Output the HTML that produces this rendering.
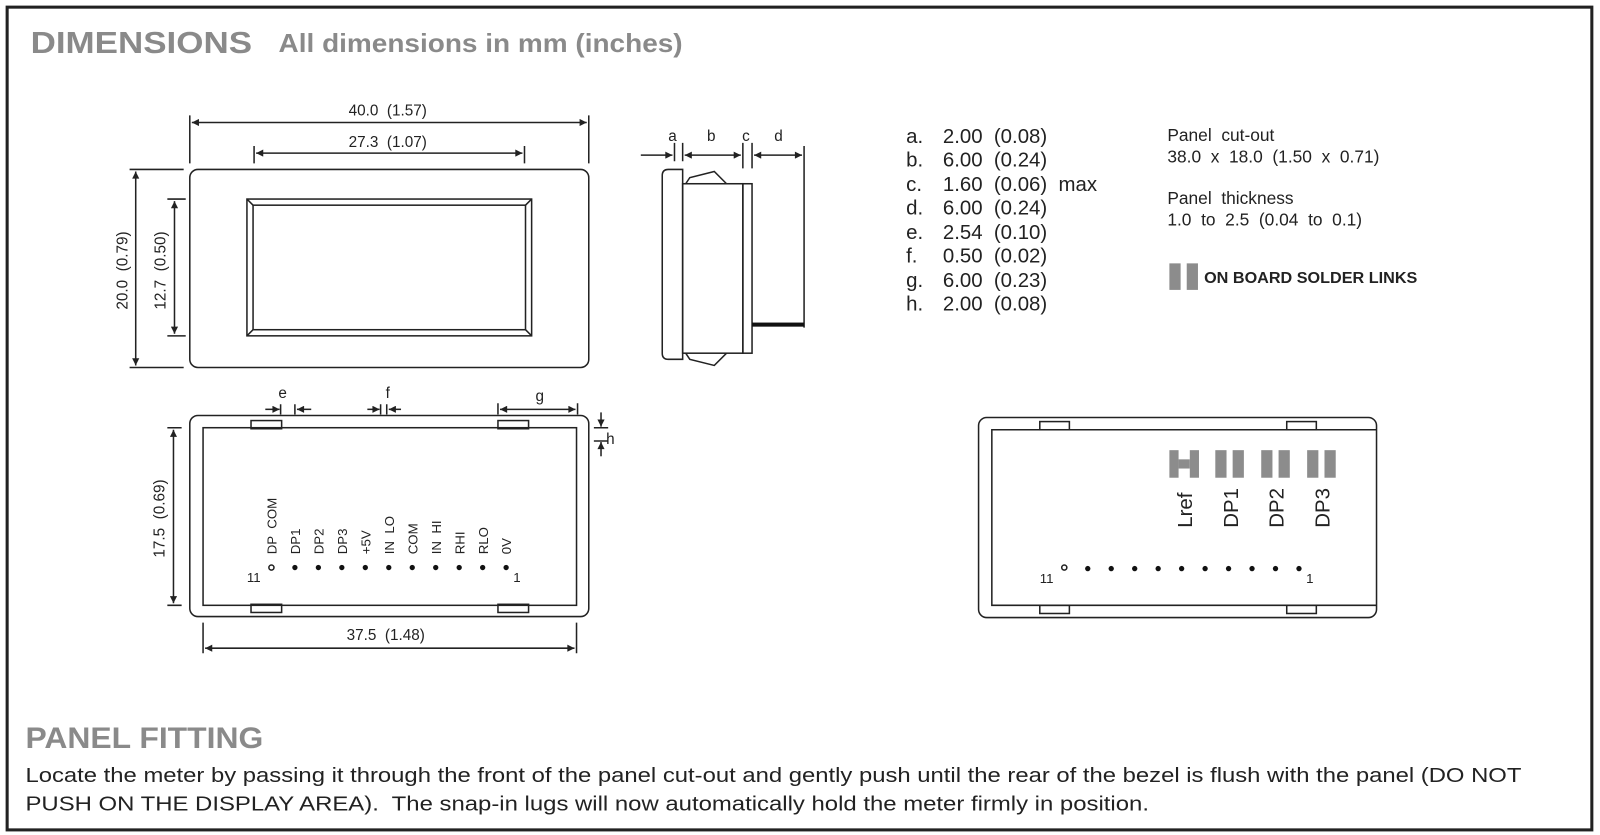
<!DOCTYPE html>
<html><head><meta charset="utf-8"><style>
html,body{margin:0;padding:0;background:#fff;width:1600px;height:835px;overflow:hidden}
svg{display:block}
text{font-family:"Liberation Sans",sans-serif;fill:#222;white-space:pre}
</style></head><body>
<svg width="1600" height="835" viewBox="0 0 1568 818" preserveAspectRatio="none" xmlns="http://www.w3.org/2000/svg" xml:space="preserve">
<defs>
<marker id="a" viewBox="0 0 10 10" refX="10" refY="5" markerWidth="9" markerHeight="7" orient="auto-start-reverse" markerUnits="userSpaceOnUse"><path d="M0,0L10,5L0,10z" fill="#222"/></marker>
</defs>
<rect x="7" y="7" width="1553" height="806" fill="#fff" stroke="#222" stroke-width="3"/>
<text x="30" y="52" font-size="30" font-weight="bold" style="fill:#8a8a8a" textLength="217" lengthAdjust="spacingAndGlyphs">DIMENSIONS</text>
<text x="273" y="51" font-size="25" font-weight="bold" style="fill:#8a8a8a" textLength="396" lengthAdjust="spacingAndGlyphs">All dimensions in mm (inches)</text>

<g stroke="#222" stroke-width="1.5" fill="none">
<rect x="186" y="166" width="391" height="194" rx="8"/>
<rect x="242" y="195" width="279" height="134"/>
<rect x="248" y="201" width="267" height="122"/>
<path d="M242,195L248,201M521,195L515,201M242,329L248,323M521,329L515,323"/>
<path d="M186,113V160M577,113V160M249,143V160M514,143V160"/>
<path d="M188,120H575" marker-start="url(#a)" marker-end="url(#a)"/>
<path d="M251,150H512" marker-start="url(#a)" marker-end="url(#a)"/>
<path d="M127,166H180M127,360H180M164,195H182M164,329H182"/>
<path d="M133,168V358" marker-start="url(#a)" marker-end="url(#a)"/>
<path d="M171,197V327" marker-start="url(#a)" marker-end="url(#a)"/>
<path d="M669,166H655Q649,166 649,172V346Q649,352 655,352H669Z"/>
<rect x="669" y="180" width="59" height="166"/>
<rect x="728" y="180" width="9" height="166"/>
<path d="M672,180L676,174L700,168L712,180"/>
<path d="M672,346L676,352L700,358L712,346"/>
<path d="M788,143V321"/>
<path d="M661,140V158M669,140V158M728,140V165M737,140V165"/>
<path d="M628,152H659" marker-end="url(#a)"/>
<path d="M671,152H726" marker-start="url(#a)" marker-end="url(#a)"/>
<path d="M739,152H786" marker-start="url(#a)" marker-end="url(#a)"/>
<rect x="186" y="407" width="391" height="197" rx="8"/>
<rect x="199" y="419" width="366" height="174"/>
<rect x="246" y="412" width="30" height="8"/><rect x="488" y="412" width="30" height="8"/>
<rect x="246" y="592" width="30" height="8"/><rect x="488" y="592" width="30" height="8"/>
<path d="M275,396V406M289,396V406M373,396V406M379,396V406M488,395V406M566,395V406"/>
<path d="M260,401H274" marker-end="url(#a)"/>
<path d="M305,401H291" marker-end="url(#a)"/>
<path d="M360,401H372" marker-end="url(#a)"/>
<path d="M393,401H381" marker-end="url(#a)"/>
<path d="M490,401H564" marker-start="url(#a)" marker-end="url(#a)"/>
<path d="M582,419H596M582,432H596"/>
<path d="M589,404V418" marker-end="url(#a)"/>
<path d="M589,447V433" marker-end="url(#a)"/>
<path d="M164,419H178M164,593H178"/>
<path d="M170,421V591" marker-start="url(#a)" marker-end="url(#a)"/>
<path d="M199,610V640M565,610V640"/>
<path d="M201,635H563" marker-start="url(#a)" marker-end="url(#a)"/>
<circle cx="266" cy="556" r="2.5"/>
<rect x="959" y="409" width="390" height="196" rx="8"/>
<path d="M1349,421H972V593H1349"/>
<rect x="1019" y="413" width="29" height="8"/><rect x="1261" y="413" width="29" height="8"/>
<rect x="1019" y="593" width="29" height="8"/><rect x="1261" y="593" width="29" height="8"/>
<circle cx="1043" cy="556" r="2.5"/>
</g>
<g fill="#111">
<circle cx="289" cy="556" r="2.6"/><circle cx="312" cy="556" r="2.6"/><circle cx="335" cy="556" r="2.6"/><circle cx="358" cy="556" r="2.6"/><circle cx="381" cy="556" r="2.6"/><circle cx="404" cy="556" r="2.6"/><circle cx="427" cy="556" r="2.6"/><circle cx="450" cy="556" r="2.6"/><circle cx="473" cy="556" r="2.6"/><circle cx="496" cy="556" r="2.6"/>
<circle cx="1066" cy="557" r="2.6"/><circle cx="1089" cy="557" r="2.6"/><circle cx="1112" cy="557" r="2.6"/><circle cx="1135" cy="557" r="2.6"/><circle cx="1158" cy="557" r="2.6"/><circle cx="1181" cy="557" r="2.6"/><circle cx="1204" cy="557" r="2.6"/><circle cx="1227" cy="557" r="2.6"/><circle cx="1250" cy="557" r="2.6"/><circle cx="1273" cy="557" r="2.6"/>
<rect x="737" y="316" width="51" height="4"/>
</g>
<g fill="#8c8c8c">
<rect x="1146" y="441" width="9" height="27"/><rect x="1166" y="441" width="9" height="27"/><rect x="1155" y="450" width="11" height="9"/>
<rect x="1191" y="441" width="11" height="27"/><rect x="1208" y="441" width="11" height="27"/>
<rect x="1236" y="441" width="11" height="27"/><rect x="1253" y="441" width="11" height="27"/>
<rect x="1281" y="441" width="11" height="27"/><rect x="1298" y="441" width="11" height="27"/>
<rect x="1146" y="258" width="11" height="26"/><rect x="1163" y="258" width="11" height="26"/>
</g>

<g font-size="15" text-anchor="middle">
<text x="380" y="113">40.0  (1.57)</text>
<text x="380" y="144">27.3  (1.07)</text>
<text transform="translate(125,265) rotate(-90)">20.0  (0.79)</text>
<text transform="translate(162,265) rotate(-90)">12.7  (0.50)</text>
<text transform="translate(161,508) rotate(-90)">17.5  (0.69)</text>
<text x="378" y="627">37.5  (1.48)</text>
<text x="659" y="138">a</text><text x="697" y="138">b</text><text x="731" y="138">c</text><text x="763" y="138">d</text>
<text x="277" y="390">e</text><text x="380" y="390">f</text><text x="529" y="393">g</text>
</g>
<text x="594" y="435" font-size="15">h</text>
<g font-size="13">
<text x="242" y="570">11</text><text x="503" y="570">1</text>
<text x="1019" y="571">11</text><text x="1280" y="571">1</text>
</g>
<g font-size="13">
<text transform="translate(271,543) rotate(-90)">DP  COM</text>
<text transform="translate(294,543) rotate(-90)">DP1</text>
<text transform="translate(317,543) rotate(-90)">DP2</text>
<text transform="translate(340,543) rotate(-90)">DP3</text>
<text transform="translate(363,543) rotate(-90)">+5V</text>
<text transform="translate(386,543) rotate(-90)">IN  LO</text>
<text transform="translate(409,543) rotate(-90)">COM</text>
<text transform="translate(432,543) rotate(-90)">IN  HI</text>
<text transform="translate(455,543) rotate(-90)">RHI</text>
<text transform="translate(478,543) rotate(-90)">RLO</text>
<text transform="translate(501,543) rotate(-90)">0V</text>
</g>
<g font-size="20">
<text transform="translate(1168,517) rotate(-90)">Lref</text>
<text transform="translate(1213,517) rotate(-90)">DP1</text>
<text transform="translate(1258,517) rotate(-90)">DP2</text>
<text transform="translate(1303,517) rotate(-90)">DP3</text>
</g>
<g font-size="20">
<text x="888" y="140">a.</text><text x="924" y="140">2.00  (0.08)</text>
<text x="888" y="163">b.</text><text x="924" y="163">6.00  (0.24)</text>
<text x="888" y="187">c.</text><text x="924" y="187">1.60  (0.06)  max</text>
<text x="888" y="210">d.</text><text x="924" y="210">6.00  (0.24)</text>
<text x="888" y="234">e.</text><text x="924" y="234">2.54  (0.10)</text>
<text x="888" y="257">f.</text><text x="924" y="257">0.50  (0.02)</text>
<text x="888" y="281">g.</text><text x="924" y="281">6.00  (0.23)</text>
<text x="888" y="304">h.</text><text x="924" y="304">2.00  (0.08)</text>
</g>
<g font-size="17">
<text x="1144" y="138">Panel  cut-out</text>
<text x="1144" y="159">38.0  x  18.0  (1.50  x  0.71)</text>
<text x="1144" y="200">Panel  thickness</text>
<text x="1144" y="221">1.0  to  2.5  (0.04  to  0.1)</text>
</g>
<text x="1180" y="277" font-size="15" font-weight="bold" textLength="209" lengthAdjust="spacingAndGlyphs">ON BOARD SOLDER LINKS</text>

<text x="25" y="733" font-size="29" font-weight="bold" style="fill:#8a8a8a" textLength="233" lengthAdjust="spacingAndGlyphs">PANEL FITTING</text>
<g font-size="20">
<text x="25" y="766" textLength="1466" lengthAdjust="spacingAndGlyphs">Locate the meter by passing it through the front of the panel cut-out and gently push until the rear of the bezel is flush with the panel (DO NOT</text>
<text x="25" y="794" textLength="1101" lengthAdjust="spacingAndGlyphs">PUSH ON THE DISPLAY AREA).  The snap-in lugs will now automatically hold the meter firmly in position.</text>
</g>
</svg>
</body></html>
